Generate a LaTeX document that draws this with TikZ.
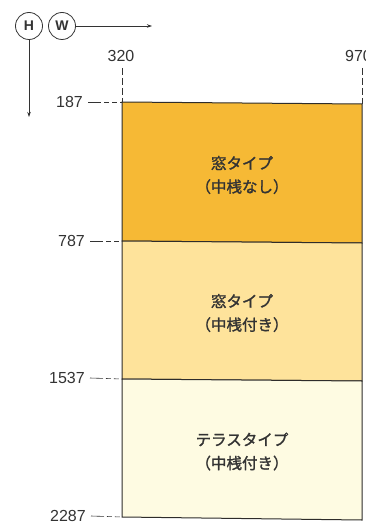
\documentclass[tikz,border=0pt]{standalone}
\usepackage{fontspec}
\setmainfont{Liberation Sans}
\newfontfamily\jp[FakeBold=1.6]{Noto Sans CJK JP}
\usetikzlibrary{arrows.meta}
\definecolor{cA}{HTML}{F6B935}
\definecolor{cB}{HTML}{FEE39B}
\definecolor{cC}{HTML}{FEFBE2}
\definecolor{edge}{HTML}{2E2C2A}
\definecolor{txt}{HTML}{333333}
\begin{document}
\begin{tikzpicture}[x=1pt,y=-1pt,
  num/.style={font=\fontsize{16}{18}\selectfont, text=txt, inner sep=0pt},
  lab/.style={font=\jp\fontsize{15.5}{23.5}\selectfont, text=txt, align=center},
  circ/.style={circle, draw=txt, line width=0.8pt, minimum size=27pt, inner sep=0pt, text=txt, font=\bfseries\fontsize{14}{15}\selectfont},
  axis/.style={draw=txt, line width=0.7pt, -{Stealth[length=5pt,width=3.5pt]}},
  hdim/.style={draw=txt, line width=0.6pt, dash pattern=on 13pt off 3pt on 5pt off 3pt on 5pt off 3pt},
  vdim/.style={draw=txt, line width=0.6pt, dash pattern=on 7pt off 3pt},
  panel/.style={draw=edge, line width=1pt}]
\useasboundingbox (0,0) rectangle (365,524);

% axes
\node[circ] (H) at (29,26) {H};
\node[circ] (W) at (62,26) {W};
\coordinate (Wend) at (152,26);
\coordinate (Hend) at (29,117);
\draw[axis] (W.east) -- (Wend);
\draw[axis] (H.south) -- (Hend);

% corners
\coordinate (a1) at (122,102); \coordinate (a2) at (362,104);
\coordinate (b1) at (122,241); \coordinate (b2) at (362,243);
\coordinate (c1) at (122,379); \coordinate (c2) at (362,381);
\coordinate (d1) at (122,517); \coordinate (d2) at (362,520);

% panels
\path[panel, fill=cA] (a1) -- (a2) -- (b2) -- (b1) -- cycle;
\path[panel, fill=cB] (b1) -- (b2) -- (c2) -- (c1) -- cycle;
\path[panel, fill=cC] (c1) -- (c2) -- (d2) -- (d1) -- cycle;

\node[lab] (p1) at (242,175) {窓タイプ\\（中桟なし）};
\node[lab] (p2) at (242,313) {窓タイプ\\（中桟付き）};
\node[lab] (p3) at (242,451.5) {テラスタイプ\\（中桟付き）};

% width dimensions
\node[num] (w320) at (121,56) {320};
\node[num, anchor=west] (w970) at (345,56) {970};
\coordinate (w320b) at (122,68);
\coordinate (w970b) at (362,68);
\draw[vdim] (w320b) -- (a1);
\draw[vdim] (w970b) -- (a2);

% height dimensions
\node[num, anchor=east] (h187) at (83,102) {187};
\node[num, anchor=east] (h787) at (85,241) {787};
\node[num, anchor=east] (h1537) at (85,378) {1537};
\node[num, anchor=east] (h2287) at (86,516) {2287};
\draw[hdim] ([xshift=5pt]h187.east) -- (a1);
\draw[hdim] ([xshift=5pt]h787.east) -- (b1);
\draw[hdim] ([xshift=5pt]h1537.east) -- (c1);
\draw[hdim] ([xshift=5pt]h2287.east) -- (d1);
\end{tikzpicture}
\end{document}
